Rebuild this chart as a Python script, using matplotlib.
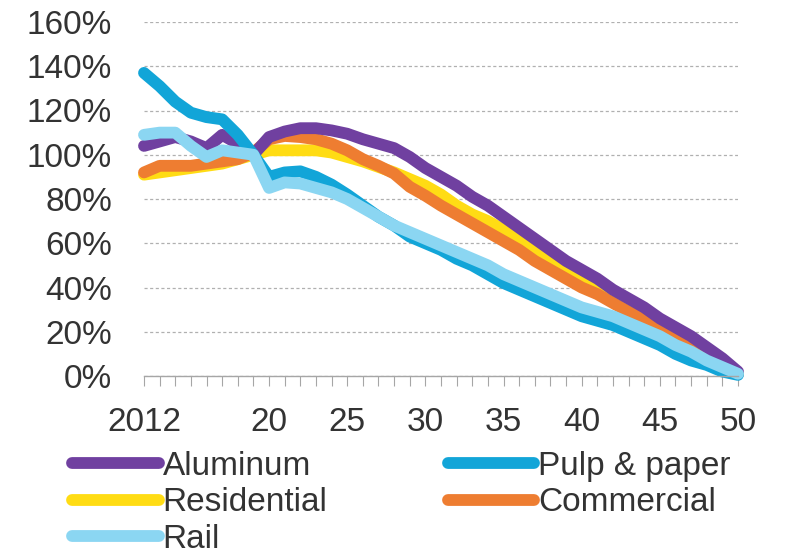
import numpy as np
import matplotlib
matplotlib.use("Agg")
from matplotlib import pyplot
from matplotlib.ticker import FixedLocator, FixedFormatter

years = list(range(2012, 2051))

aluminum = [104, 106, 108, 106, 103, 109, 105, 100, 108, 110.5, 112, 112, 111,
            109.5, 107, 105, 103, 99, 94, 90, 86, 81, 77, 72, 67, 62, 57, 52,
            48, 44, 39, 35, 31, 26, 22, 18, 13, 8, 2]
pulp_paper = [137, 131, 124, 119, 117, 116, 109, 100, 90, 92, 92.5, 90, 86.5,
              82, 77, 72, 68, 63, 60, 57, 53, 50, 46, 42, 39, 36, 33, 30,
              27, 25, 23, 20, 17, 14, 10, 7, 5, 2, 0.5]
residential = [91, 92, 93, 94, 95, 96, 98, 100, 102, 102, 102, 102, 101,
               99, 97, 94.5, 92, 89, 86, 82, 77, 73, 70, 66, 61, 56, 52, 48,
               44, 40, 35, 31, 28, 24, 20, 16, 11, 6, 1]
commercial = [92, 95, 95, 95, 96, 97, 98, 101, 107, 108.5, 108, 107, 105,
              102, 98, 95, 91.5, 85.5, 81.5, 77, 73, 69, 65, 61, 57, 52, 48, 44,
              40, 37, 33, 29, 26, 22, 19, 15, 10, 6, 1]
rail = [109, 110, 110, 104, 99, 102, 101, 100, 85, 87.5, 87, 85, 83,
        80, 76, 72, 68, 65, 62, 59, 56, 53, 50, 46, 43, 40, 37, 34,
        31, 29, 27, 24, 21, 18, 14, 11, 7, 4, 1]

xtick_years = [2012, 2020, 2025, 2030, 2035, 2040, 2045, 2050]
xtick_labels = ["2012", "20", "25", "30", "35", "40", "45", "50"]
ytick_values = [0, 20, 40, 60, 80, 100, 120, 140, 160]

series = [
    ("Residential", residential, "#ffdc14"),
    ("Commercial", commercial, "#ee7d31"),
    ("Aluminum", aluminum, "#7040a0"),
    ("Pulp & paper", pulp_paper, "#12a5d8"),
    ("Rail", rail, "#8bd6f2"),
]
legend_order = ["Aluminum", "Residential", "Rail", "Pulp & paper", "Commercial"]

pyplot.rcParams['font.family'] = ["Liberation Sans", "DejaVu Sans"]
text_color = "#333333"
grid_color = "#b0b0b0"

figure = pyplot.figure(figsize=(7.87, 5.6), dpi=100)
axes = figure.add_axes([144 / 787, 1 - 376 / 560, (738 - 144) / 787, (376 - 22) / 560])

lines = {}
for name, values, color in series:
    line, = axes.plot(years, values, color=color, linewidth=8.5,
                      solid_capstyle="round", solid_joinstyle="round",
                      clip_on=False, label=name)
    lines[name] = line

axes.set_xlim(2012, 2050)
axes.set_ylim(0, 160)

axes.yaxis.set_major_locator(FixedLocator(ytick_values))
axes.yaxis.set_major_formatter(FixedFormatter(["%d%%" % v for v in ytick_values]))
axes.xaxis.set_major_locator(FixedLocator(xtick_years))
axes.xaxis.set_major_formatter(FixedFormatter(xtick_labels))
axes.xaxis.set_minor_locator(FixedLocator(years))

axes.yaxis.grid(True, linestyle=(0, (2.5, 2)), color=grid_color, linewidth=0.9)
axes.set_axisbelow(True)
for side in ("left", "top", "right"):
    axes.spines[side].set_visible(False)
axes.spines["bottom"].set_color("#a6a6a6")
axes.spines["bottom"].set_linewidth(1.0)

axes.tick_params(axis="y", length=0, pad=23, labelsize=24, labelcolor=text_color)
axes.tick_params(axis="x", which="both", direction="out", length=7, width=0.8,
                 color="#a6a6a6", pad=15, labelsize=24, labelcolor=text_color)

handles = [lines[name] for name in legend_order]
figure.legend(handles, legend_order, ncol=2, loc="upper left",
              bbox_to_anchor=(72 / 787, 1 - 451 / 560), frameon=False,
              fontsize=24, handlelength=2.6, handletextpad=0.12,
              columnspacing=3.6, labelspacing=0.16, borderpad=0,
              borderaxespad=0, labelcolor=text_color)

figure.savefig("out.png", dpi=100)
